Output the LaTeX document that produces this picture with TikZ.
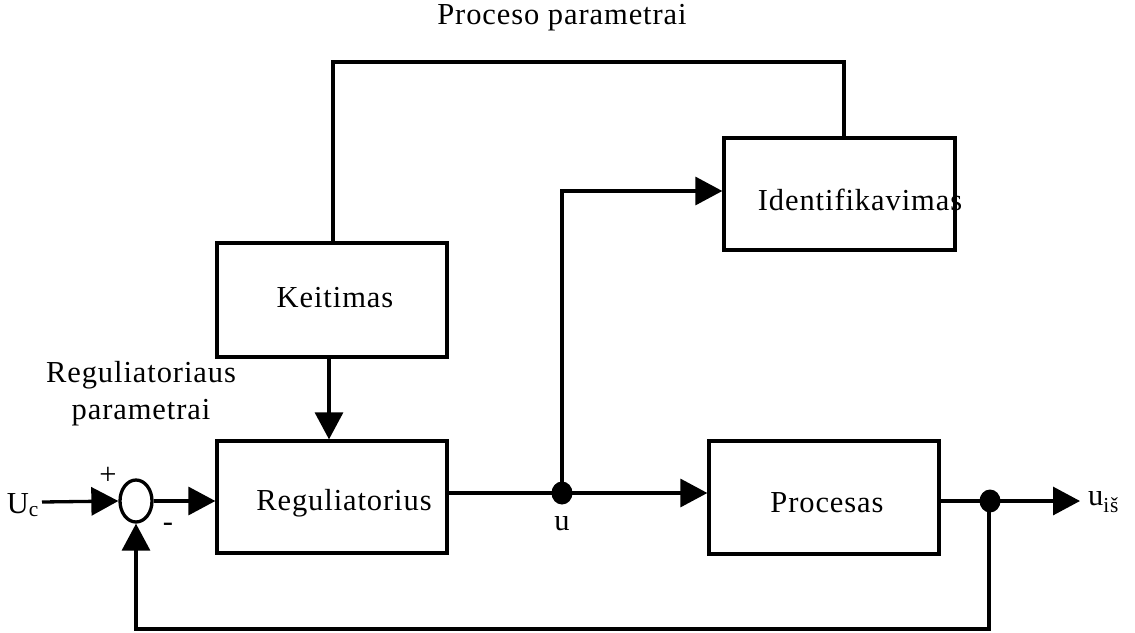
\documentclass[tikz,border=0pt]{standalone}
\usepackage{fontspec}
\setmainfont{Liberation Serif}[LetterSpace=3]
\usetikzlibrary{arrows.meta,shapes.geometric}
\tikzset{
  blk/.style={draw, line width=3.3pt, minimum width=230pt, inner sep=0pt},
  lbl/.style={font=\fontsize{30.5}{33}\selectfont, inner sep=0pt},
  conn/.style={line width=3.3pt},
  arr/.style={conn, -{Triangle[length=27pt,width=28pt]}},
  jdot/.style={ellipse, fill=black, minimum width=21pt, minimum height=23pt, inner sep=0pt},
}
\begin{document}
\begin{tikzpicture}[x=1pt,y=-1pt]
\useasboundingbox (0,0) rectangle (1135,632);
% boxes
\node[blk, minimum height=114pt] (keit) at (332,300) {};
\node[blk, minimum height=112pt] (reg) at (332,497) {};
\node[blk, minimum height=113pt] (proc) at (824,497.5) {};
\node[blk, minimum width=231pt, minimum height=112pt] (ident) at (839.5,194) {};
\node[draw, ellipse, line width=3.3pt, minimum width=32pt, minimum height=42pt, inner sep=0pt] (sum) at (136,501) {};
% texts
\node[lbl] (tkeit) at (335,298) {Keitimas};
\node[lbl] (treg) at (344,503) {Reguliatorius};
\node[lbl] (tproc) at (827,503) {Procesas};
\node[lbl] (tident) at (860,200) {Identifikavimas};
\node[lbl] (tpp) at (562,18) {Proceso parametrai};
\node[lbl, align=center] (trp) at (141,394) {Reguliatoriaus\\[4pt]parametrai};
\node[lbl, anchor=east] (uc) at (39,505) {U\textsubscript{c}};
\node[lbl] (tu) at (562,524) {u};
\node[lbl, anchor=west] (uis) at (1088,502) {u\textsubscript{iš}};
\node[lbl] (plus) at (108,476) {+};
\node[lbl] (minus) at (168,527) {-};
% junctions
\node[jdot] (j1) at (562,493) {};
\node[jdot] (j2) at (990,501) {};
\coordinate (ucs) at (42,502);
\coordinate (yout) at (1080,501);
\coordinate (c1) at (562,191);
\coordinate (t1) at (844,62);
\coordinate (t2) at (333,62);
\coordinate (b1) at (989,629);
\coordinate (b2) at (136,629);
% connectors
\draw[arr] (ucs) -- (sum.west);
\draw[arr] (sum.east) -- (sum.east -| reg.west);
\draw[arr] (keit.south -| 329,0) -- (reg.north -| 329,0);
\draw[conn] (reg.east |- j1) -- (j1.center);
\draw[arr] (j1.center) -- (j1 -| proc.west);
\draw[arr] (j1.center) -- (c1) -- (c1 -| ident.west);
\draw[conn] (ident.north -| t1) -- (t1) -- (t2) -- (keit.north -| t2);
\draw[conn] (proc.east |- j2) -- (j2.center);
\draw[arr] (j2.center) -- (yout);
\draw[arr] (j2.center -| b1) -- (b1) -- (b2) -- (sum.south);
\end{tikzpicture}
\end{document}
